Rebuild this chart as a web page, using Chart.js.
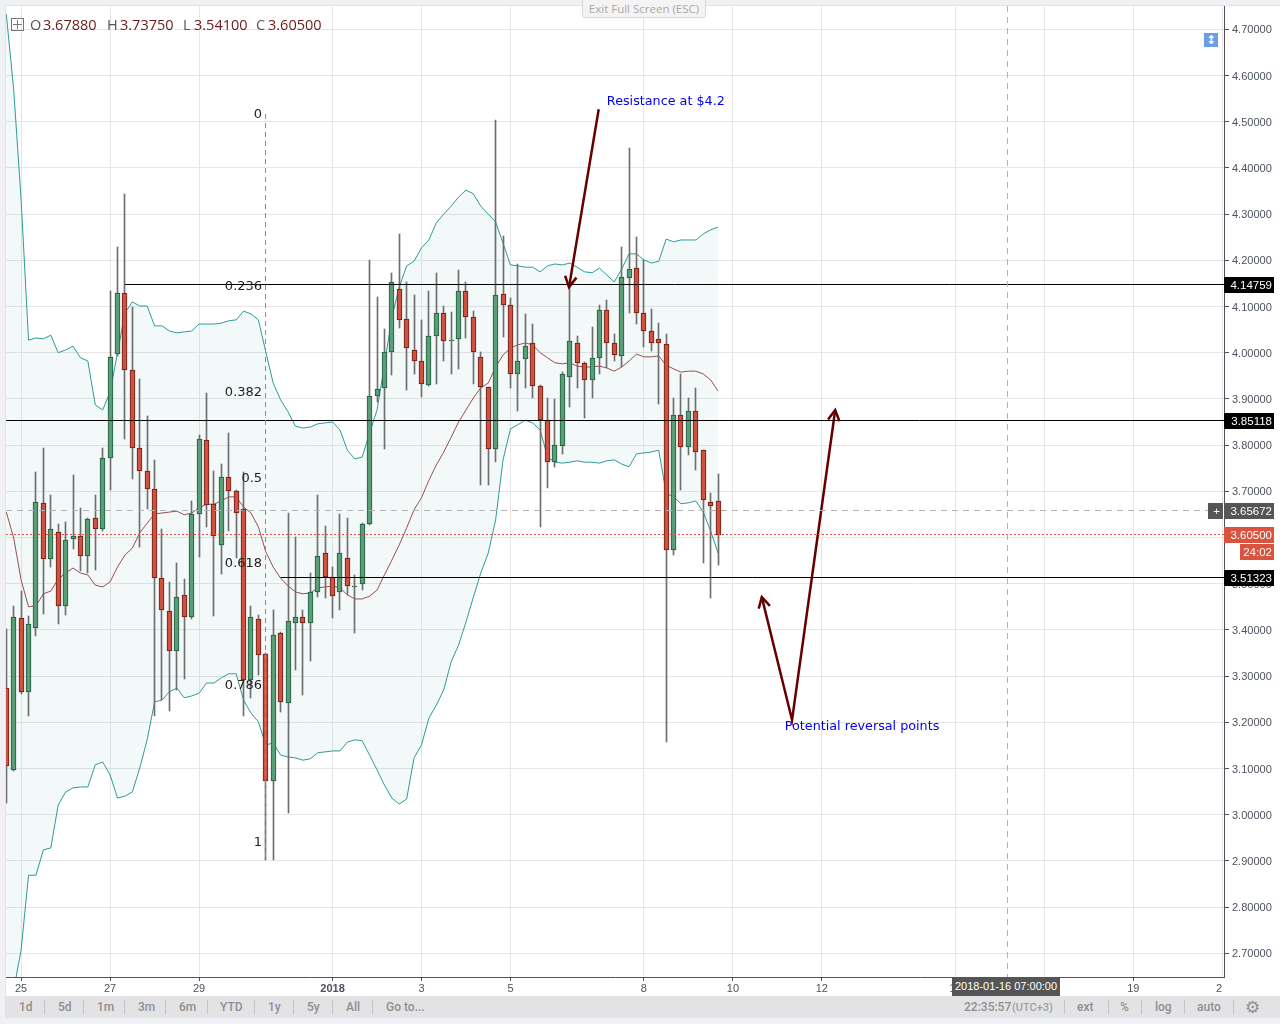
<!DOCTYPE html>
<html>
<head>
<meta charset="utf-8">
<title>Chart</title>
<script src="https://cdn.jsdelivr.net/npm/chart.js@4/dist/chart.umd.js"></script>
<style>
    html, body { margin: 0; padding: 0; background: #eff1f5; width: 1280px; height: 1024px; overflow: hidden; }
    #wrap { position: relative; width: 1280px; height: 1024px; }
    canvas { position: absolute; left: 0; top: 0; }
    #toolbar { position: absolute; left: 5px; top: 996px; width: 1275px; height: 22px; background: #e3e3e5; }
    .tool { position: absolute; top: 1000px; font: 500 12px Roboto, sans-serif; color: #8f8f8f; line-height: 15px; white-space: nowrap; }
    .sep { position: absolute; top: 1000px; width: 1px; height: 14px; background: #c4c4c6; }
    .hd { position: absolute; top: 15px; font: 14.5px "Open Sans", sans-serif; line-height: 20px; white-space: nowrap; }
    #exit { position: absolute; left: 582px; top: 0; width: 122px; height: 17px; background: #f4f4f4; border: 1px solid #d8d8d8; border-top: 0; border-radius: 0 0 4px 4px; font: 11.5px "Open Sans", sans-serif; color: #a8a8a8; text-align: center; line-height: 18px; white-space: nowrap; }
    #fold { position: absolute; left: 11px; top: 18px; width: 11px; height: 11px; border: 1px solid #777; }
    #fold:before { content: ""; position: absolute; left: 1px; right: 1px; top: 5px; height: 1px; background: #777; }
    #fold:after { content: ""; position: absolute; top: 1px; bottom: 1px; left: 5px; width: 1px; background: #777; }
    #scale { position: absolute; left: 1204px; top: 33px; width: 14px; height: 14px; background: #6a9ee6; color: #fff; font: bold 12px "DejaVu Sans", sans-serif; line-height: 14px; text-align: center; }
    #stamp { position: absolute; left: 952px; top: 977px; width: 108px; height: 19px; background: #555; color: #fff; font: 11px "Liberation Sans", sans-serif; line-height: 19px; text-align: center; white-space: nowrap; }
</style>
</head>
<body>
<div id="wrap">
    <canvas id="priceChart" width="1280" height="1024"></canvas>
    <div id="exit">Exit Full Screen (ESC)</div>
    <div id="fold"></div>
    <div id="scale">&#8597;</div>
    <div id="toolbar"></div>
    <div id="stamp">2018-01-16 07:00:00</div>
</div>
<script>
// 4h candles
const opens  = [3.274,3.097,3.425,3.266,3.405,3.674,3.553,3.611,3.452,3.596,3.603,3.561,3.642,3.618,3.771,3.997,4.129,3.962,3.793,3.745,3.706,3.512,3.440,3.354,3.475,3.427,3.650,3.810,3.672,3.583,3.730,3.700,3.661,3.291,3.423,3.348,3.074,3.393,3.241,3.414,3.427,3.416,3.481,3.566,3.514,3.481,3.555,3.493,3.499,3.629,3.906,3.923,4.001,4.137,4.072,4.005,3.981,3.929,4.036,4.085,4.025,4.029,4.133,4.077,3.990,3.925,3.792,4.126,4.103,3.953,3.986,4.022,3.927,3.854,3.763,3.797,3.947,4.022,3.977,3.940,3.988,4.092,4.020,3.992,4.161,4.183,4.085,4.048,4.029,4.018,3.574,3.865,3.795,3.873,3.789,3.676,3.6788];
const highs  = [3.402,3.452,3.484,3.429,3.742,3.794,3.692,3.629,3.634,3.735,3.664,3.642,3.692,3.794,4.134,4.229,4.344,4.099,3.943,3.863,3.768,3.618,3.504,3.545,3.510,3.679,3.822,3.913,3.744,3.759,3.826,3.703,3.742,3.452,3.432,3.350,3.443,3.395,3.652,3.600,3.443,3.523,3.691,3.625,3.536,3.650,3.642,3.518,3.631,4.201,4.120,4.051,4.173,4.257,4.152,4.125,4.071,4.134,4.173,4.101,4.088,4.179,4.153,4.090,4.002,3.926,4.504,4.253,4.118,4.191,4.084,4.062,3.930,3.901,3.899,3.958,4.147,4.036,3.980,4.056,4.103,4.113,4.040,4.228,4.443,4.250,4.201,4.095,4.064,4.040,3.901,3.953,3.901,3.923,3.789,3.696,3.7375];
const lows   = [3.025,3.095,3.261,3.214,3.387,3.434,3.537,3.413,3.432,3.575,3.528,3.523,3.530,3.614,3.703,3.993,3.814,3.727,3.580,3.662,3.214,3.248,3.225,3.270,3.294,3.424,3.558,3.623,3.429,3.521,3.615,3.556,3.214,3.253,3.302,2.903,2.903,3.223,3.004,3.313,3.258,3.333,3.472,3.468,3.426,3.443,3.476,3.394,3.486,3.627,3.893,3.792,3.952,4.053,3.919,3.954,3.905,3.927,3.933,3.982,3.954,3.965,4.032,3.932,3.714,3.714,3.764,4.034,3.924,3.874,3.924,3.902,3.623,3.708,3.753,3.781,3.883,3.924,3.859,3.903,3.954,3.966,3.983,3.968,4.085,4.063,4.013,4.004,3.890,3.157,3.563,3.703,3.779,3.746,3.545,3.468,3.541];
const closes = [3.105,3.428,3.266,3.413,3.676,3.553,3.618,3.452,3.594,3.603,3.561,3.639,3.618,3.771,3.990,4.129,3.962,3.793,3.745,3.706,3.512,3.442,3.354,3.471,3.427,3.650,3.813,3.670,3.603,3.730,3.700,3.652,3.291,3.427,3.345,3.074,3.390,3.243,3.419,3.427,3.416,3.481,3.561,3.514,3.473,3.566,3.494,3.494,3.629,3.906,3.921,4.001,4.152,4.070,4.010,3.981,3.932,4.036,4.085,4.025,4.027,4.133,4.077,4.001,3.925,3.792,4.124,4.103,3.953,3.981,4.014,3.927,3.854,3.763,3.800,3.953,4.025,3.977,3.940,3.988,4.092,4.022,3.994,4.163,4.181,4.085,4.048,4.022,4.022,3.574,3.865,3.795,3.873,3.784,3.681,3.668,3.605];

// bollinger bands
const bandUpper  = [4.733,4.569,4.331,4.027,4.032,4.030,4.038,4.000,4.006,4.014,3.989,3.982,3.887,3.876,3.915,4.000,4.086,4.110,4.101,4.101,4.058,4.058,4.047,4.043,4.045,4.047,4.062,4.062,4.062,4.064,4.069,4.071,4.090,4.084,4.071,4.002,3.934,3.898,3.872,3.841,3.837,3.839,3.846,3.848,3.850,3.833,3.789,3.770,3.774,3.826,3.876,3.973,4.077,4.142,4.188,4.198,4.227,4.244,4.281,4.300,4.317,4.337,4.352,4.344,4.317,4.300,4.283,4.237,4.190,4.188,4.185,4.185,4.175,4.188,4.192,4.190,4.194,4.185,4.175,4.173,4.183,4.168,4.153,4.181,4.214,4.214,4.201,4.194,4.198,4.246,4.240,4.244,4.244,4.244,4.257,4.266,4.272];
const bandMiddle = [3.655,3.599,3.508,3.450,3.452,3.478,3.484,3.510,3.523,3.534,3.523,3.519,3.497,3.493,3.504,3.536,3.562,3.577,3.610,3.631,3.651,3.653,3.655,3.657,3.649,3.653,3.664,3.672,3.672,3.679,3.688,3.688,3.666,3.653,3.623,3.569,3.536,3.512,3.495,3.482,3.478,3.480,3.491,3.493,3.495,3.491,3.476,3.467,3.467,3.473,3.486,3.519,3.551,3.584,3.621,3.660,3.686,3.724,3.757,3.785,3.817,3.850,3.876,3.902,3.924,3.934,3.969,3.995,4.010,4.017,4.021,4.017,4.000,3.989,3.978,3.976,3.978,3.971,3.969,3.969,3.971,3.967,3.960,3.969,3.982,3.997,3.991,3.991,3.993,3.973,3.965,3.958,3.960,3.960,3.954,3.941,3.917];
const bandLower  = [2.502,2.621,2.707,2.869,2.869,2.924,2.928,3.021,3.049,3.058,3.060,3.060,3.108,3.114,3.086,3.036,3.040,3.049,3.101,3.162,3.244,3.248,3.266,3.274,3.253,3.257,3.263,3.285,3.285,3.296,3.305,3.305,3.248,3.220,3.201,3.151,3.155,3.129,3.125,3.123,3.118,3.121,3.134,3.136,3.138,3.138,3.157,3.162,3.160,3.129,3.097,3.064,3.036,3.023,3.034,3.123,3.151,3.209,3.237,3.270,3.331,3.367,3.417,3.471,3.523,3.566,3.638,3.768,3.835,3.844,3.854,3.848,3.833,3.774,3.763,3.761,3.763,3.766,3.763,3.763,3.761,3.766,3.768,3.759,3.753,3.781,3.783,3.785,3.789,3.696,3.688,3.673,3.675,3.679,3.655,3.614,3.566];

// axes
const xTickSlots  = [2,14,26,44,56,68,86,98,110,128,140,152,164];
const xTickLabels = ['25','27','29','2018','3','5','8','10','12','15','17','19','21'];
const yTickValues = [2.7,2.8,2.9,3.0,3.1,3.2,3.3,3.4,3.5,3.6,3.7,3.8,3.9,4.0,4.1,4.2,4.3,4.4,4.5,4.6,4.7];
const X_MIN = -0.04, X_MAX = 164.24, Y_MIN = 2.6487, Y_MAX = 4.7504;

// drawings on the chart
const fibTop = 4.5166, fibBottom = 2.902, fibSlot = 35;
const fibLabels = ['0','0.236','0.382','0.5','0.618','0.786','1'];
const fibLabelPrices = [4.5144,4.1434,3.9127,3.7267,3.5427,3.2787,2.9387];
const levelPrices = [4.14759,3.85118,3.51323];
const levelStarts = [16,-0.04,37];
const lastPrice = 3.605;
const crossPrice = 3.65672, crossSlot = 135;
const arrowOneX = [79.9,75.9],        arrowOneY = [4.527,4.142];
const arrowTwoX = [101.9,105.98,111.8], arrowTwoY = [3.471,3.205,3.876];
const noteTexts = ['Resistance at $4.2','Potential reversal points'];
const noteSlots = [81,105];
const notePrices = [4.5423,3.1897];

// header and toolbar text
const headerParts = [['O',30,'#555'],['3.67880',43,'#6b1a1a'],['H',107,'#555'],['3.73750',120,'#6b1a1a'],['L',183,'#555'],['3.54100',194,'#6b1a1a'],['C',256,'#555'],['3.60500',268,'#6b1a1a']];
const toolItems = [['1d',19],['5d',58],['1m',97],['3m',138],['6m',179],['YTD',220],['1y',268],['5y',307],['All',346],['Go to...',386],['ext',1077],['%',1120],['log',1155],['auto',1197]];
const toolSeps = [44,83,124,165,207,254,293,332,372,1064,1108,1141,1184,1233];

const slots = opens.map((_, i) => i);
const isUp = opens.map((o, i) => closes[i] >= o);

function lineData(xs, ys) {
    return xs.map((x, i) => ({ x: x, y: ys[i] }));
}

function arrowLine(xs, ys) {
    return {
        type: 'line', data: lineData(xs, ys), borderColor: '#660000', borderWidth: 2.5,
        pointRadius: 0, tension: 0, fill: false, order: 1
    };
}

function bandLine(values, color, order, fill) {
    return {
        type: 'line', data: lineData(slots, values), borderColor: color, borderWidth: 1,
        pointRadius: 0, tension: 0, fill: fill, backgroundColor: 'rgba(47,150,150,0.06)', order: order
    };
}

const chartExtras = {
    id: 'chartExtras',
    beforeDraw(chart) {
        const c = chart.ctx;
        c.save();
        c.fillStyle = '#ffffff';
        c.fillRect(6, 6, 1274, 990);
        c.fillStyle = '#e0e3eb';
        c.fillRect(5, 5, 1275, 1);
        c.fillRect(5, 5, 1, 991);
        c.restore();
    },
    // snap candles to whole pixels so bodies and wicks stay sharp
    afterDatasetsUpdate(chart) {
        chart.data.datasets.forEach((ds, i) => {
            if (ds.type !== 'bar') return;
            chart.getDatasetMeta(i).data.forEach(el => {
                el.x = Math.floor(el.x) + 0.5;
                el.y = Math.round(el.y);
                el.base = Math.round(el.base);
            });
        });
    },
    afterDatasetsDraw(chart) {
        const c = chart.ctx, xs = chart.scales.x, ys = chart.scales.y;
        c.save();
        levelPrices.forEach((p, i) => flatLine(c, xs, ys, levelStarts[i], X_MAX, p, '#000000', []));
        flatLine(c, xs, ys, X_MIN, X_MAX, lastPrice, '#d9533f', [2, 2]);
        flatLine(c, xs, ys, X_MIN, X_MAX, crossPrice, '#b4b4b4', [6, 5]);
        uprightLine(c, xs, ys, crossSlot, Y_MIN, Y_MAX, '#b4b4b4', [6, 5]);
        uprightLine(c, xs, ys, fibSlot, fibBottom, fibTop, '#8a8a8a', [5, 4]);
        c.restore();
    },
    afterDraw(chart) {
        const c = chart.ctx, xs = chart.scales.x, ys = chart.scales.y;
        c.save();

        // the last day label is cut off by the price axis
        c.fillStyle = '#ffffff';
        c.fillRect(1222, 978, 58, 18);

        // fib labels
        c.font = '13px "DejaVu Sans"';
        c.fillStyle = '#222222';
        c.textAlign = 'right';
        c.textBaseline = 'middle';
        fibLabels.forEach((t, i) => c.fillText(t, xs.getPixelForValue(34.5), ys.getPixelForValue(fibLabelPrices[i])));

        // notes
        c.font = '12.75px "DejaVu Sans"';
        c.textAlign = 'left';
        c.fillStyle = '#0000ee';
        noteTexts.forEach((t, i) => c.fillText(t, xs.getPixelForValue(noteSlots[i]), ys.getPixelForValue(notePrices[i])));

        // arrow heads
        c.strokeStyle = '#660000';
        c.lineWidth = 2.5;
        arrowHead(c, xs, ys, arrowOneX[0], arrowOneY[0], arrowOneX[1], arrowOneY[1]);
        arrowHead(c, xs, ys, arrowTwoX[1], arrowTwoY[1], arrowTwoX[0], arrowTwoY[0]);
        arrowHead(c, xs, ys, arrowTwoX[1], arrowTwoY[1], arrowTwoX[2], arrowTwoY[2]);

        // price tags on the axis
        levelPrices.forEach(p => priceTag(c, ys, p, p.toFixed(5), '#000000', 1224, 50));
        priceTag(c, ys, crossPrice, crossPrice.toFixed(5), '#555555', 1224, 50);
        priceTag(c, ys, lastPrice, lastPrice.toFixed(5), '#d9533f', 1224, 50);
        priceTag(c, ys, lastPrice - 0.0368, '24:02', '#d9533f', 1240, 34);
        priceTag(c, ys, crossPrice, '+', '#555555', 1208, 15);
        c.restore();
    }
};

function flatLine(c, xs, ys, x0, x1, price, color, dash) {
    const y = Math.round(ys.getPixelForValue(price)) - 0.5;
    c.beginPath();
    c.setLineDash(dash);
    c.lineWidth = 1;
    c.strokeStyle = color;
    c.moveTo(xs.getPixelForValue(x0), y);
    c.lineTo(xs.getPixelForValue(x1), y);
    c.stroke();
}

function uprightLine(c, xs, ys, slot, p0, p1, color, dash) {
    const x = Math.floor(xs.getPixelForValue(slot)) + 0.5;
    c.beginPath();
    c.setLineDash(dash);
    c.lineWidth = 1;
    c.strokeStyle = color;
    c.moveTo(x, ys.getPixelForValue(p1));
    c.lineTo(x, ys.getPixelForValue(p0));
    c.stroke();
}

function arrowHead(c, xs, ys, fromX, fromY, tipX, tipY) {
    const x0 = xs.getPixelForValue(fromX), y0 = ys.getPixelForValue(fromY);
    const x1 = xs.getPixelForValue(tipX), y1 = ys.getPixelForValue(tipY);
    const a = Math.atan2(y1 - y0, x1 - x0);
    c.beginPath();
    c.setLineDash([]);
    c.moveTo(x1 - 12 * Math.cos(a - 0.5), y1 - 12 * Math.sin(a - 0.5));
    c.lineTo(x1, y1);
    c.lineTo(x1 - 12 * Math.cos(a + 0.5), y1 - 12 * Math.sin(a + 0.5));
    c.stroke();
}

function priceTag(c, ys, price, text, bg, left, width) {
    const y = Math.round(ys.getPixelForValue(price));
    c.fillStyle = bg;
    c.fillRect(left, y - 8, width, 16);
    c.fillStyle = '#ffffff';
    c.font = '11.5px "Liberation Sans"';
    c.textAlign = 'right';
    c.textBaseline = 'middle';
    c.fillText(text, text === '+' ? left + 12 : left + width - 2, y + 1);
}

new Chart(document.getElementById('priceChart').getContext('2d'), {
    type: 'bar',
    data: {
        datasets: [
            bandLine(bandUpper, '#2f9a9a', 8, '+1'),
            bandLine(bandLower, '#2f9a9a', 7, false),
            bandLine(bandMiddle, '#9a4f4f', 6, false),
            {
                type: 'bar', data: slots.map(i => ({ x: i, y: [lows[i], highs[i]] })),
                backgroundColor: '#6e6e6e', barThickness: 1, grouped: false, order: 5
            },
            {
                type: 'bar', data: slots.map(i => ({ x: i, y: [opens[i], closes[i]] })),
                backgroundColor: isUp.map(u => u ? '#5a9e78' : '#cf5240'),
                borderColor: isUp.map(u => u ? '#1f5a3c' : '#6b1a14'),
                borderWidth: 1, borderSkipped: false, barThickness: 5, grouped: false, order: 4
            },
            arrowLine(arrowOneX, arrowOneY),
            arrowLine(arrowTwoX, arrowTwoY)
        ]
    },
    options: {
        responsive: false,
        devicePixelRatio: 1,
        animation: false,
        events: [],
        layout: { padding: { left: 6, top: 6, right: 0, bottom: 0 } },
        plugins: { legend: { display: false }, tooltip: { enabled: false } },
        scales: {
            x: {
                type: 'linear', min: X_MIN, max: X_MAX, offset: false,
                afterBuildTicks(axis) { axis.ticks = xTickSlots.map(v => ({ value: v })); },
                afterFit(axis) { axis.height = 47; axis.paddingLeft = 0; axis.paddingRight = 0; },
                grid: { color: '#e6e6e6', offset: false, tickLength: 4, tickColor: '#50535e' },
                border: { color: '#50535e', display: true },
                ticks: {
                    autoSkip: false, maxRotation: 0, padding: 1, color: '#4c525e',
                    callback: v => xTickLabels[xTickSlots.indexOf(v)],
                    font: ctx => ({ family: '"Liberation Sans"', size: 11, weight: ctx.tick && ctx.tick.label === '2018' ? 'bold' : 'normal' })
                }
            },
            y: {
                type: 'linear', position: 'right', min: Y_MIN, max: Y_MAX,
                afterBuildTicks(axis) { axis.ticks = yTickValues.map(v => ({ value: v })); },
                afterFit(axis) { axis.width = 56; axis.paddingTop = 0; axis.paddingBottom = 0; },
                grid: { color: '#e6e6e6', tickLength: 5, tickColor: '#50535e' },
                border: { color: '#50535e', display: true },
                ticks: {
                    autoSkip: false, padding: 3, labelOffset: 1, color: '#4c525e',
                    callback: v => v.toFixed(5),
                    font: { family: '"Liberation Sans"', size: 11 }
                }
            }
        }
    },
    plugins: [chartExtras]
});

// header and toolbar are plain text over the canvas
const wrap = document.getElementById('wrap');
headerParts.forEach(([t, left, color]) => {
    const el = document.createElement('div');
    el.className = 'hd';
    el.textContent = t;
    el.style.left = left + 'px';
    el.style.color = color;
    wrap.appendChild(el);
});
toolItems.forEach(([t, left]) => {
    const el = document.createElement('div');
    el.className = 'tool';
    el.textContent = t;
    el.style.left = left + 'px';
    wrap.appendChild(el);
});
toolSeps.forEach(left => {
    const el = document.createElement('div');
    el.className = 'sep';
    el.style.left = left + 'px';
    wrap.appendChild(el);
});
[['22:35:57', 964, '#8f8f8f', 12], ['(UTC+3)', 1012, '#9f9f9f', 11], ['\u2699', 1245, '#8f8f8f', 17]].forEach(([t, left, color, size]) => {
    const el = document.createElement('div');
    el.className = 'tool';
    el.textContent = t;
    el.style.left = left + 'px';
    el.style.color = color;
    el.style.fontSize = size + 'px';
    wrap.appendChild(el);
});
</script>
</body>
</html>
